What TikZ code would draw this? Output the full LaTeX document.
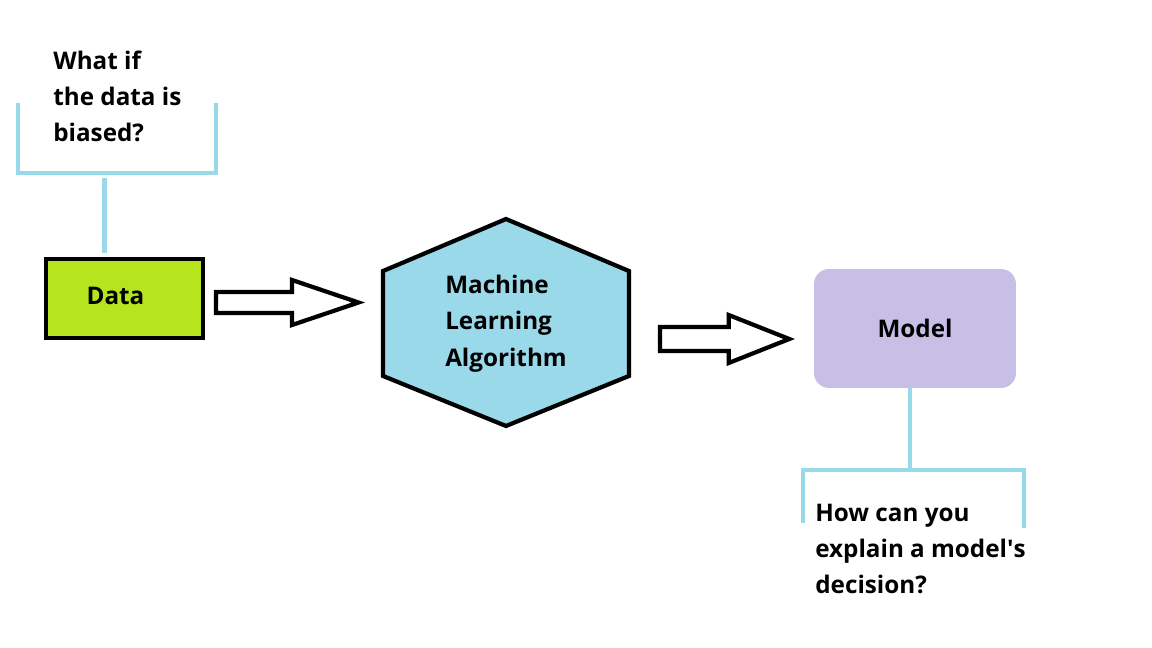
\documentclass[tikz,border=0pt]{standalone}
\usepackage{fontspec}
\setmainfont{Open Sans}
\usepackage{tikz}
\usetikzlibrary{calc, positioning, backgrounds}

\definecolor{limefill}{HTML}{B5E61D}
\definecolor{hexblue}{HTML}{99D9EA}
\definecolor{lavender}{HTML}{C8BFE7}

% hollow block arrow: tail, tip, shaft half, head half, head length
\newcommand{\blockarrow}[5]{%
  \draw[fatarrow] ($(#1)+(0,-#3)$) -- ($(#2)+(-#5,-#3)$) -- ($(#2)+(-#5,-#4)$) -- (#2)
    -- ($(#2)+(-#5,#4)$) -- ($(#2)+(-#5,#3)$) -- ($(#1)+(0,#3)$) -- cycle;}

\begin{document}
\begin{tikzpicture}[
    x=0.02cm, y=-0.02cm,
    font=\bfseries\fontsize{13.8}{20.7}\selectfont,
    datanode/.style={rectangle, draw=black, line width=2.4pt, fill=limefill, minimum width=3.14cm, minimum height=1.58cm},
    hexnode/.style={inner sep=0pt, outer sep=0pt, minimum width=4.92cm, minimum height=4.14cm, align=left},
    modelnode/.style={rectangle, rounded corners=0.3cm, fill=lavender, minimum width=4.04cm, minimum height=2.38cm},
    question/.style={anchor=west, inner sep=0pt, align=left},
    bracket/.style={draw=hexblue, line width=2.8pt},
    fatarrow/.style={draw=black, fill=white, line width=2.4pt, line join=miter}
]
    \useasboundingbox (0,0) rectangle (1152,648);

    \node[datanode, label={[xshift=-0.18cm, yshift=0.06cm]center:Data}] (data) at (124.5,298.5) {};
    \node[hexnode] (mla) at (506,323.5) {Machine\\Learning\\Algorithm};
    \node[modelnode] (model) at (915,328.5) {Model};
    \node[question] (bias) at (53,96.5) {What if\\the data is\\biased?};
    \node[question] (explain) at (815,549) {How can you\\explain a model\textquotesingle s\\decision?};

    \begin{scope}[on background layer]
        \fill[white] (0,0) rectangle (1152,648);
        \draw[fill=hexblue, line width=2.4pt, line join=miter] ($(mla.north)+(0,-1)$) -- ($(mla.north east)+(0,51)$)
            -- ($(mla.south east)+(0,-51)$) -- ($(mla.south)+(0,-1)$) -- ($(mla.south west)+(0,-51)$)
            -- ($(mla.north west)+(0,51)$) -- cycle;
    \end{scope}

    % block arrows
    \coordinate (a1s) at ($(data.east)+(11,4)$);
    \coordinate (a1e) at ($(a1s -| mla.west)+(-24.5,0)$);
    \blockarrow{a1s}{a1e}{10.5}{22.5}{66.5}
    \coordinate (a2s) at ($(mla.east)+(31,15.5)$);
    \coordinate (a2e) at ($(a2s -| model.west)+(-24.4,0)$);
    \blockarrow{a2s}{a2e}{12}{24}{60.6}

    % question brackets
    \draw[bracket] ($(data.north)+(-20,-4)$) -- ++(0,-75);
    \draw[bracket] (18,103) -- (18,173) -- (216,173) -- (216,103);
    \draw[bracket] ($(model.south)+(-5,0)$) -- ++(0,82);
    \draw[bracket] (803,523) -- (803,470) -- (1024,470) -- (1024,528);
\end{tikzpicture}
\end{document}
